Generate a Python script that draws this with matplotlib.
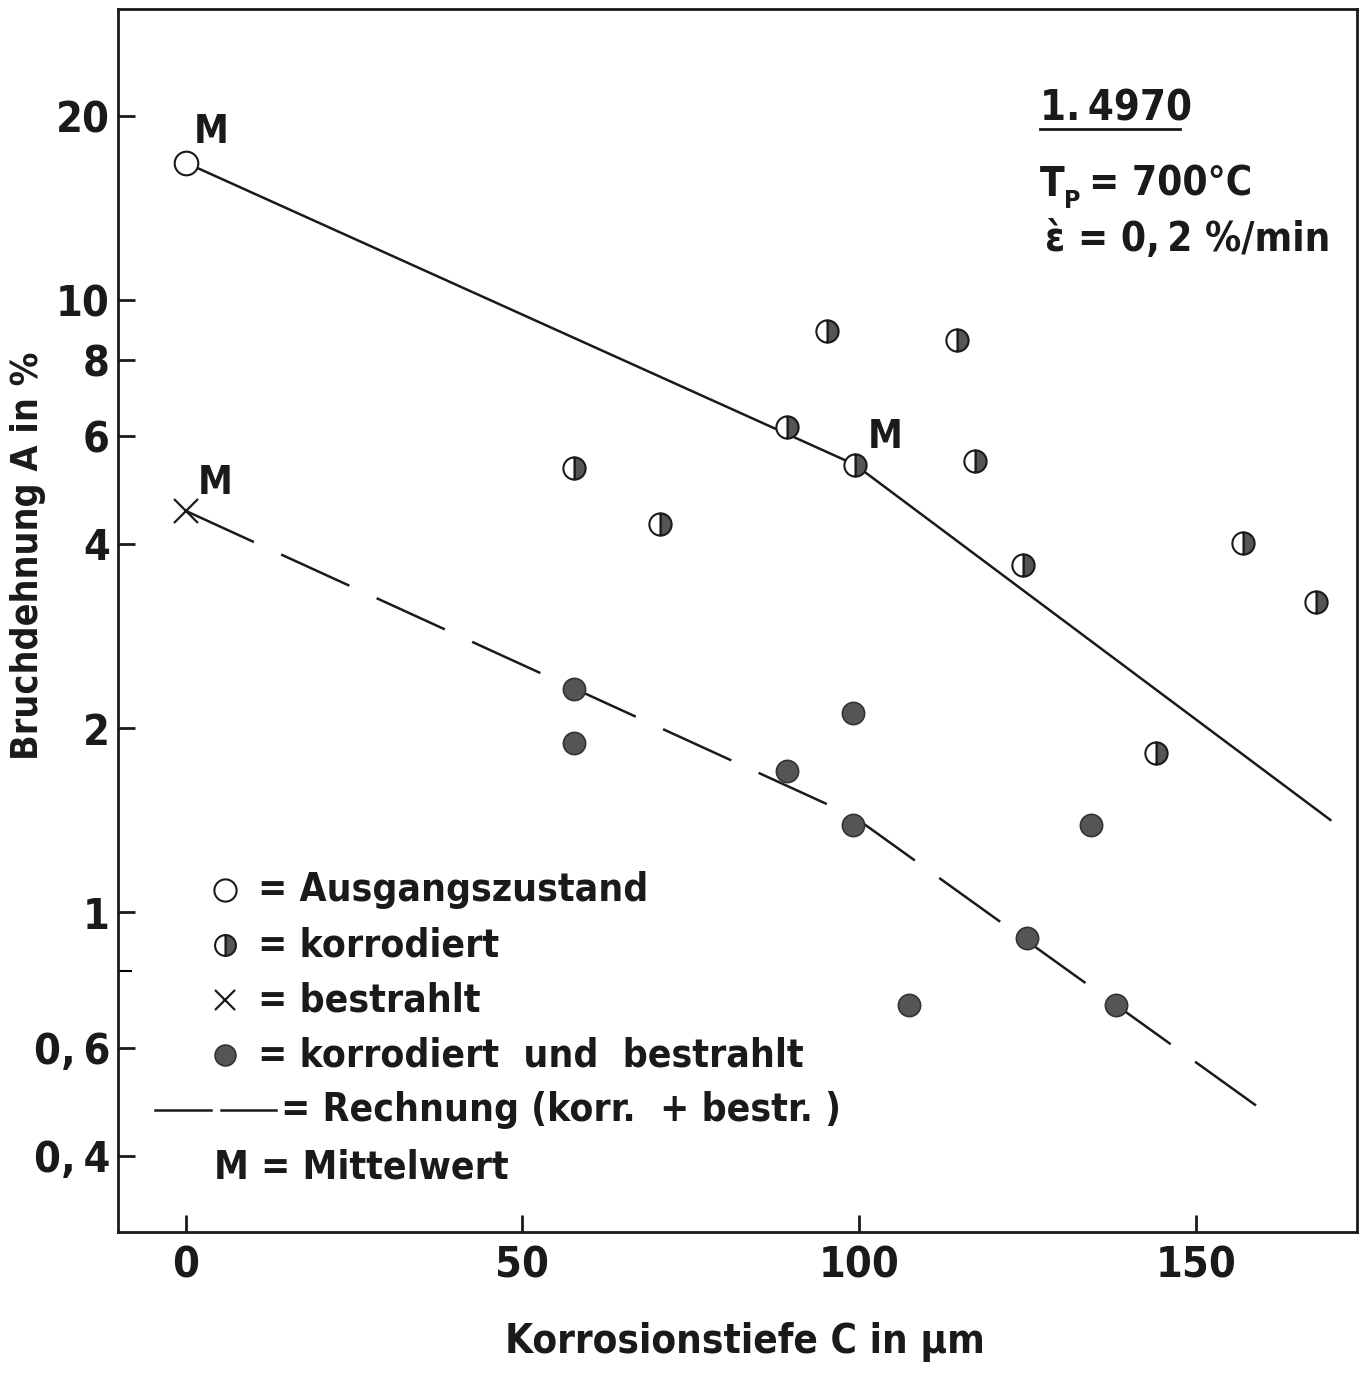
import matplotlib
import matplotlib.pyplot as plt
from matplotlib.lines import Line2D

matplotlib.use("Agg")

plt.rcParams["font.family"] = ["DejaVu Sans"]
plt.rcParams["font.stretch"] = "condensed"
plt.rcParams["font.weight"] = "bold"
plt.rcParams["axes.labelweight"] = "bold"

# Ausgangszustand
x_ausgang = [0]
y_ausgang = [16.8]

# korrodiert
x_korr = [57.7, 70.4, 89.3, 95.3, 99.4, 114.5, 117.2, 124.3, 144.1, 157.1, 167.8]
y_korr = [5.33, 4.31, 6.22, 8.9, 5.39, 8.63, 5.47, 3.69, 1.82, 4.01, 3.22]

# bestrahlt
x_bestr = [0]
y_bestr = [4.53]

# korrodiert und bestrahlt
x_kb = [57.7, 57.7, 89.3, 99.1, 99.1, 107.4, 124.9, 134.5, 138.2]
y_kb = [2.32, 1.89, 1.70, 2.12, 1.39, 0.704, 0.906, 1.39, 0.704]

# Ausgleichslinie korrodiert (durchgezogen)
x_fit_korr = [0, 99.4, 170]
y_fit_korr = [16.8, 5.39, 1.415]

# Rechnung (korr. + bestr.), gestrichelt
x_rechnung = [0, 99.1, 160.8]
y_rechnung = [4.53, 1.436, 0.467]

y_ticks = [0.4, 0.6, 1, 2, 4, 6, 8, 10, 20]
y_ticklabels = ["0,\u20094", "0,\u20096", "1", "2", "4", "6", "8", "10", "20"]
x_ticks = [0, 50, 100, 150]

fig = plt.figure(figsize=(13.6, 13.76), dpi=100)
ax = fig.add_axes([0.087, 0.1047, 0.911, 0.889])
ax.set_yscale("log")
ax.set_xlim(-10, 174)
ax.set_ylim(0.3, 30)

ink = "#1a1a1a"
grey = "#555555"

ax.plot(x_fit_korr, y_fit_korr, "-", color=ink, lw=1.8, zorder=2)
ax.plot(x_rechnung, y_rechnung, color=ink, lw=1.8, dashes=(30, 12), zorder=2)

ax.plot(x_ausgang, y_ausgang, "o", ms=17, mfc="white", mec=ink, mew=1.5, zorder=3)
ax.plot(x_korr, y_korr, "o", ms=16, fillstyle="right", mfc=grey,
        markerfacecoloralt="white", mec=ink, mew=1.5, zorder=3)
ax.plot(x_bestr, y_bestr, "x", ms=17, mec=ink, mew=1.6, zorder=3)
ax.plot(x_kb, y_kb, "o", ms=16, mfc=grey, mec="#333333", mew=1.2, zorder=3)

# Mittelwerte
ax.annotate("M", (x_ausgang[0], y_ausgang[0]), xytext=(6, 14), textcoords="offset points",
            fontsize=28, color=ink)
ax.annotate("M", (x_bestr[0], y_bestr[0]), xytext=(9, 12), textcoords="offset points",
            fontsize=28, color=ink)
ax.annotate("M", (x_korr[4], y_korr[4]), xytext=(9, 12), textcoords="offset points",
            fontsize=28, color=ink)

# Achsen
ax.set_yticks(y_ticks)
ax.set_yticklabels(y_ticklabels)
ax.set_yticks([0.8], minor=True)
ax.set_yticklabels([""], minor=True)
ax.set_xticks(x_ticks)
ax.tick_params(axis="both", which="major", direction="in", length=12, width=2,
               labelsize=31, colors=ink)
ax.tick_params(axis="y", which="major", pad=6)
ax.tick_params(axis="x", which="major", pad=9)
ax.tick_params(axis="y", which="minor", direction="in", length=10, width=1.5, left=True)
for s in ax.spines.values():
    s.set_linewidth(2)
    s.set_color(ink)

ax.set_xlabel("Korrosionstiefe C in µm", fontsize=29, color=ink)
ax.xaxis.set_label_coords(0.506, -0.074)
ax.set_ylabel("Bruchdehnung A in %", fontsize=27, color=ink)
ax.yaxis.set_label_coords(-0.058, 0.553)

# Werkstoff / Versuchsbedingungen
ax.text(0.744, 0.9085, "1.\u20094970", transform=ax.transAxes, fontsize=30, color=ink,
        va="baseline")
ax.plot([0.744, 0.857], [0.9015, 0.9015], transform=ax.transAxes, color=ink, lw=2)
ax.text(0.744, 0.847, "T", transform=ax.transAxes, fontsize=29, color=ink, va="baseline")
ax.text(0.7635, 0.837, "P", transform=ax.transAxes, fontsize=18, color=ink, va="baseline")
ax.text(0.7835, 0.847, "= 700°C", transform=ax.transAxes, fontsize=29, color=ink,
        va="baseline")
ax.text(0.748, 0.802, "ὲ = 0,\u20092 %/min", transform=ax.transAxes, fontsize=29, color=ink,
        va="baseline")

# Legende
leg_x = 0.0864
txt_x = 0.113
rows = [0.2794, 0.2345, 0.1895, 0.1446, 0.0997, 0.0523]
ax.plot([leg_x], [rows[0]], "o", transform=ax.transAxes, ms=16, mfc="white", mec=ink, mew=1.5)
ax.plot([leg_x], [rows[1]], "o", transform=ax.transAxes, ms=15, fillstyle="right", mfc=grey,
        markerfacecoloralt="white", mec=ink, mew=1.5)
ax.plot([leg_x], [rows[2]], "x", transform=ax.transAxes, ms=14, mec=ink, mew=1.6)
ax.plot([leg_x], [rows[3]], "o", transform=ax.transAxes, ms=15, mfc=grey, mec="#333333", mew=1.2)
ax.add_line(Line2D([0.030, 0.075], [rows[4], rows[4]], transform=ax.transAxes, color=ink, lw=1.8))
ax.add_line(Line2D([0.083, 0.127], [rows[4], rows[4]], transform=ax.transAxes, color=ink, lw=1.8))

labels = ["= Ausgangszustand", "= korrodiert", "= bestrahlt",
          "= korrodiert  und  bestrahlt"]
for yy, lab in zip(rows[:4], labels):
    ax.text(txt_x, yy, lab, transform=ax.transAxes, fontsize=28, color=ink, va="center")
ax.text(0.131, rows[4], "= Rechnung (korr.  + bestr. )", transform=ax.transAxes,
        fontsize=28, color=ink, va="center")
ax.text(0.077, rows[5], "M = Mittelwert", transform=ax.transAxes, fontsize=28,
        color=ink, va="center")

plt.savefig("out.png", dpi=100)
plt.close()
